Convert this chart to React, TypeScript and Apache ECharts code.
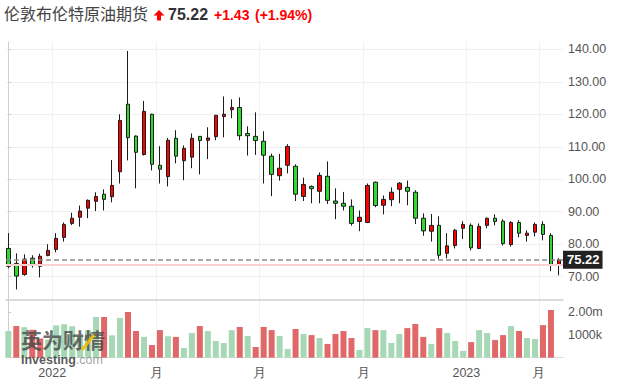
import React, { useEffect, useRef } from "react";
import * as echarts from "echarts";

const instrumentName = "伦敦布伦特原油期货";
const lastPrice = 75.22;
const prevClose = 73.79;
const changeText = "+1.43";
const changePctText = "(+1.94%)";

// weekly candles: [open, close, low, high]
const candles: number[][] = [
  [78.7, 73.2, 72.6, 83.4],
  [74.1, 70.2, 66.1, 77.2],
  [70.7, 75.4, 70.3, 76.9],
  [75.7, 73.8, 72.8, 76.6],
  [73.2, 76.3, 69.8, 77.1],
  [76.5, 78.1, 76.3, 80.0],
  [78.4, 81.8, 77.5, 83.4],
  [82.1, 86.1, 80.8, 86.7],
  [86.4, 88.0, 85.9, 89.7],
  [88.3, 90.2, 85.4, 91.9],
  [91.1, 93.5, 88.0, 93.8],
  [93.2, 94.7, 90.2, 96.0],
  [95.4, 93.8, 90.4, 96.9],
  [94.6, 98.1, 92.9, 105.9],
  [102.3, 118.1, 98.7, 120.0],
  [123.1, 112.8, 105.8, 139.5],
  [113.3, 108.3, 97.2, 113.5],
  [107.6, 120.9, 107.3, 124.1],
  [120.0, 104.6, 102.7, 120.2],
  [104.3, 103.1, 98.7, 110.2],
  [100.8, 112.0, 97.8, 112.7],
  [112.6, 107.1, 104.9, 115.1],
  [105.7, 109.5, 99.7, 110.4],
  [106.8, 112.6, 103.4, 114.1],
  [113.2, 111.9, 101.5, 113.2],
  [112.0, 112.7, 106.2, 116.0],
  [113.1, 119.7, 112.0, 119.8],
  [119.3, 120.0, 112.9, 125.5],
  [121.4, 122.1, 118.8, 124.6],
  [122.1, 113.4, 112.0, 125.2],
  [114.1, 113.4, 107.3, 116.3],
  [113.2, 111.9, 107.5, 120.6],
  [111.7, 107.4, 98.7, 114.8],
  [107.1, 101.5, 94.8, 107.9],
  [101.1, 103.4, 99.6, 107.8],
  [104.3, 110.1, 101.8, 110.8],
  [104.0, 95.4, 93.3, 104.6],
  [94.7, 98.4, 93.3, 100.5],
  [97.8, 97.1, 92.6, 98.1],
  [96.3, 101.2, 92.6, 102.1],
  [100.9, 93.5, 92.4, 105.5],
  [93.3, 92.6, 87.7, 97.2],
  [92.6, 91.7, 90.4, 96.1],
  [91.7, 86.4, 85.7, 93.8],
  [87.0, 88.3, 84.0, 90.4],
  [86.7, 98.1, 86.5, 98.7],
  [99.1, 91.9, 91.4, 99.3],
  [92.0, 93.8, 89.2, 95.0],
  [93.7, 96.0, 91.7, 97.5],
  [96.9, 98.8, 92.6, 99.1],
  [97.5, 96.3, 92.0, 99.6],
  [96.0, 88.0, 86.2, 96.6],
  [88.0, 84.1, 82.6, 89.5],
  [84.0, 85.8, 80.8, 89.3],
  [85.8, 76.6, 75.5, 88.6],
  [77.2, 79.5, 75.7, 83.4],
  [79.6, 84.3, 78.7, 84.7],
  [84.9, 86.1, 81.6, 87.1],
  [85.8, 78.9, 78.1, 86.4],
  [78.7, 85.5, 78.5, 86.4],
  [85.8, 88.0, 84.9, 88.2],
  [88.0, 87.0, 85.8, 89.2],
  [87.1, 80.2, 79.6, 87.7],
  [79.9, 86.7, 79.3, 87.1],
  [86.7, 83.4, 82.1, 87.4],
  [82.7, 83.4, 80.8, 84.3],
  [83.7, 86.1, 82.4, 86.7],
  [86.1, 83.0, 81.2, 87.1],
  [82.7, 73.79, 71.7, 83.4],
  [73.8, 75.22, 70.4, 75.7],
];

// weekly volume in millions (last week not shown)
const volumes: number[] = [
  1.18, 1.4, 1.35, 1.24, 0.85, 0.8, 1.43, 1.48, 1.39, 0.95,
  1.22, 1.8, 1.8, 0.99, 1.76, 2.02, 1.18, 0.92, 0.56, 1.22,
  0.95, 0.92, 0.43, 1.09, 1.4, 1.18, 0.74, 0.65, 1.22, 1.36,
  0.96, 0.47, 1.36, 1.22, 0.96, 0.38, 1.27, 1.05, 1.0, 0.87,
  0.61, 1.05, 1.18, 0.87, 0.34, 1.31, 1.22, 1.22, 0.65, 1.05,
  1.31, 1.49, 0.92, 0.61, 1.31, 1.09, 0.74, 0.3, 0.69, 1.22,
  1.09, 0.78, 1.0, 1.4, 1.18, 0.87, 0.83, 1.44, 2.11,
];
// 1 = red bar, 0 = green bar
const volumeRed: number[] = [
  0, 1, 0, 1, 1, 0, 0, 0, 0, 0,
  0, 0, 1, 0, 0, 1, 1, 0, 1, 1,
  0, 1, 0, 0, 1, 0, 0, 0, 0, 1,
  0, 1, 1, 1, 0, 0, 1, 0, 1, 0,
  1, 1, 1, 1, 0, 0, 1, 0, 0, 0,
  1, 1, 1, 0, 1, 0, 0, 0, 1, 0,
  0, 1, 1, 0, 1, 0, 0, 1, 1,
];

const xTickPositions = [5.5, 18.6, 31.5, 44.5, 57.4, 66.5];
const xTickLabels = ["2022", "月", "月", "月", "2023", "月"];
const priceTicks = [70, 80, 90, 100, 110, 120, 130, 140];
const volumeTicks = [1000000, 2000000];
const volumeTickLabels = ["1000k", "2.00m"];

const NUM_FONT = "Arial, 'Liberation Sans', sans-serif";
const CJK_FONT = "'Noto Sans CJK SC', sans-serif";

export default function App() {
  const ref = useRef<HTMLDivElement>(null);

  useEffect(() => {
    if (!ref.current) return;
    const chart = echarts.init(ref.current, undefined, { renderer: "svg" });

    const candleData = candles.map((c, i) => [i, c[0], c[1], c[2], c[3]]);
    const volumeData = volumes.map((v, i) => ({
      value: [i, v * 1000000],
      itemStyle: { color: volumeRed[i] ? "#e06868" : "#a6d8b6" },
    }));

    const xMin = -0.29;
    const xMax = candles.length - 1 + 0.51;

    const xAxisCommon = {
      type: "value" as const,
      min: xMin,
      max: xMax,
      axisTick: { show: false, customValues: xTickPositions },
      splitLine: { show: true, lineStyle: { color: "#f2f2f2", width: 1 } },
    };

    chart.setOption({
      animation: false,
      backgroundColor: "#fff",
      grid: [
        { left: 6, right: 63, top: 42, height: 258 },
        { left: 6, right: 63, top: 300, height: 57.7 },
      ],
      xAxis: [
        {
          ...xAxisCommon,
          gridIndex: 0,
          axisLine: { show: true, lineStyle: { color: "#cfcfcf", width: 1.5 } },
          axisLabel: { show: false, customValues: xTickPositions },
        },
        {
          ...xAxisCommon,
          gridIndex: 1,
          axisLine: { show: true, lineStyle: { color: "#dddddd", width: 1 } },
          axisLabel: {
            show: true,
            customValues: xTickPositions,
            margin: 9,
            color: "#555",
            fontSize: 12.5,
            fontFamily: NUM_FONT,
            formatter: (v: number) => {
              const k = xTickPositions.findIndex((p) => Math.abs(p - v) < 1e-6);
              return k >= 0 ? xTickLabels[k] : "";
            },
          },
        },
      ],
      yAxis: [
        {
          type: "value",
          gridIndex: 0,
          position: "right",
          min: 62.83,
          max: 142.25,
          axisLine: { show: true, lineStyle: { color: "#cfcfcf" } },
          axisTick: { show: true, length: 3, customValues: priceTicks, lineStyle: { color: "#cfcfcf" } },
          axisLabel: {
            customValues: priceTicks,
            margin: 5,
            color: "#555",
            fontSize: 12.5,
            fontFamily: NUM_FONT,
            formatter: (v: number) => v.toFixed(2),
          },
          splitLine: { show: true, lineStyle: { color: "#f0f0f0" } },
        },
        {
          type: "value",
          gridIndex: 1,
          position: "right",
          min: 0,
          max: 2553000,
          axisLine: { show: true, lineStyle: { color: "#cfcfcf" } },
          axisTick: { show: true, length: 3, customValues: volumeTicks, lineStyle: { color: "#cfcfcf" } },
          axisLabel: {
            customValues: volumeTicks,
            margin: 5,
            color: "#555",
            fontSize: 12.5,
            fontFamily: NUM_FONT,
            formatter: (v: number) => {
              const k = volumeTicks.indexOf(v);
              return k >= 0 ? volumeTickLabels[k] : "";
            },
          },
          splitLine: { show: false },
        },
      ],
      series: [
        {
          type: "candlestick",
          xAxisIndex: 0,
          yAxisIndex: 0,
          data: candleData,
          barWidth: 4,
          itemStyle: {
            color: "#ff0000",
            color0: "#2fd92f",
            borderColor: "#1c1c1c",
            borderColor0: "#1c1c1c",
            borderWidth: 1,
          },
          markLine: {
            silent: true,
            symbol: ["none", "none"],
            animation: false,
            data: [
              {
                yAxis: prevClose,
                lineStyle: { color: "#fcd0d0", type: "solid", width: 2 },
                label: { show: false },
              },
              {
                yAxis: lastPrice,
                lineStyle: { color: "#8c8c8c", type: [5, 3], width: 1.5 },
                label: {
                  show: true,
                  position: "end",
                  distance: 0,
                  formatter: lastPrice.toFixed(2),
                  backgroundColor: "#222",
                  color: "#fff",
                  fontWeight: "bold",
                  fontSize: 13,
                  fontFamily: NUM_FONT,
                  padding: [3, 3, 2, 4],
                },
              },
            ],
          },
          z: 3,
        },
        {
          type: "bar",
          xAxisIndex: 1,
          yAxisIndex: 1,
          data: volumeData,
          barWidth: 6,
        },
      ],
      graphic: [
        {
          type: "text",
          x: 4,
          y: 13,
          style: {
            text: instrumentName,
            fontSize: 16,
            fontFamily: CJK_FONT,
            fill: "#444",
            verticalAlign: "middle",
          },
        },
        {
          type: "polygon",
          shape: {
            points: [
              [159, 10],
              [164.5, 15.5],
              [161, 15.5],
              [161, 20.5],
              [157, 20.5],
              [157, 15.5],
              [153.5, 15.5],
            ],
          },
          style: { fill: "#f00" },
        },
        {
          type: "text",
          x: 168,
          y: 14.5,
          style: {
            text: lastPrice.toFixed(2),
            fontSize: 16,
            fontWeight: "bold",
            fontFamily: NUM_FONT,
            fill: "#333",
            verticalAlign: "middle",
          },
        },
        {
          type: "text",
          x: 214,
          y: 15,
          style: {
            text: changeText,
            fontSize: 14,
            fontWeight: "bold",
            fontFamily: NUM_FONT,
            fill: "#f00",
            verticalAlign: "middle",
          },
        },
        {
          type: "text",
          x: 255,
          y: 15,
          style: {
            text: changePctText,
            fontSize: 14,
            fontWeight: "bold",
            fontFamily: NUM_FONT,
            fill: "#f00",
            verticalAlign: "middle",
          },
        },
        {
          type: "text",
          z: 100,
          silent: true,
          x: 21,
          y: 339,
          style: {
            text: "英为财情",
            fontSize: 21,
            fontWeight: "bold",
            fontFamily: CJK_FONT,
            fill: "rgba(70,70,70,0.8)",
            verticalAlign: "middle",
          },
        },
        {
          type: "line",
          z: 101,
          silent: true,
          shape: { x1: 82, y1: 350, x2: 94, y2: 335 },
          style: { stroke: "rgba(240,190,0,0.9)", lineWidth: 3 },
        },
        {
          type: "text",
          z: 100,
          silent: true,
          x: 21,
          y: 359.5,
          style: {
            text: "{a|Investing}{b|.com}",
            rich: {
              a: { fontSize: 12.5, fontWeight: "bold", fontFamily: NUM_FONT, fill: "rgba(60,60,60,0.85)" },
              b: { fontSize: 12.5, fontFamily: NUM_FONT, fill: "rgba(110,110,110,0.65)" },
            },
            verticalAlign: "middle",
          },
        },
      ],
    });

    return () => chart.dispose();
  }, []);

  return (
    <div
      ref={ref}
      style={{ position: "fixed", left: 0, top: 0, width: 626, height: 385, background: "#fff" }}
    />
  );
}
